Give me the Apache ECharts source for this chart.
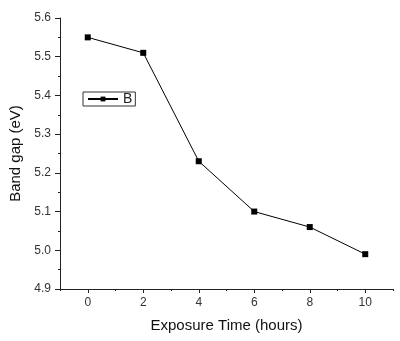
<!DOCTYPE html>
<html>
<head>
<meta charset="utf-8">
<script src="https://cdn.jsdelivr.net/npm/echarts@6/dist/echarts.min.js"></script>
<style>
  html, body { margin: 0; padding: 0; background: #fff; }
  #chart { width: 400px; height: 341px; }
</style>
</head>
<body>
<div id="chart"></div>
<script>
// Band gap against exposure time
const exposureHours = [0, 2, 4, 6, 8, 10];
const bandGap = [5.55, 5.51, 5.23, 5.10, 5.06, 4.99];
const xMajorTicks = [0, 2, 4, 6, 8, 10];
const xMinorTicks = [-1, 1, 3, 5, 7, 9, 11];
const seriesName = 'B';

const font = '"Liberation Sans", Arial, sans-serif';
const ink = '#000';

const chart = echarts.init(document.getElementById('chart'));
chart.setOption({
  animation: false,
  backgroundColor: '#fff',
  grid: { left: 59, top: 18, right: 7, bottom: 52, containLabel: false },
  legend: {
    left: 83, top: 92,
    orient: 'vertical',
    borderColor: '#333', borderWidth: 1,
    padding: [0, 3, 0, 4],
    itemWidth: 30, itemHeight: 6, itemGap: 4,
    textStyle: { fontFamily: font, fontSize: 14, color: '#222' },
    data: [seriesName]
  },
  xAxis: [{
    type: 'value', min: -1, max: 11, interval: 1,
    name: 'Exposure Time (hours)', nameLocation: 'middle', nameGap: 29,
    nameTextStyle: { fontFamily: font, fontSize: 15, color: '#111' },
    axisLine: { show: true, onZero: false, lineStyle: { color: '#222', width: 1 } },
    axisTick: { show: true, length: 4, customValues: xMajorTicks, lineStyle: { color: '#222' } },
    axisLabel: { customValues: xMajorTicks, fontFamily: font, fontSize: 12, color: '#333', margin: 8 },
    splitLine: { show: false }
  }, {
    type: 'value', min: -1, max: 11, interval: 1, position: 'bottom',
    axisLine: { show: false, onZero: false },
    axisTick: { show: true, length: 2, customValues: xMinorTicks, lineStyle: { color: '#222' } },
    axisLabel: { show: false },
    splitLine: { show: false }
  }],
  yAxis: {
    type: 'value', min: 4.9, max: 5.6, interval: 0.1,
    name: 'Band gap (eV)', nameLocation: 'middle', nameGap: 37, nameRotate: 90,
    nameTextStyle: { fontFamily: font, fontSize: 15, color: '#111' },
    axisLine: { show: true, onZero: false, lineStyle: { color: '#222', width: 1 } },
    axisTick: { show: true, length: 5, lineStyle: { color: '#222' } },
    minorTick: { show: true, splitNumber: 2, length: 2, lineStyle: { color: '#222' } },
    axisLabel: { fontFamily: font, fontSize: 12, color: '#333', margin: 9,
      formatter: v => v.toFixed(1) },
    splitLine: { show: false }
  },
  series: [{
    name: seriesName,
    type: 'line',
    xAxisIndex: 0,
    data: exposureHours.map((h, i) => [h, bandGap[i]]),
    symbol: 'rect', symbolSize: 6,
    lineStyle: { color: ink, width: 1 },
    itemStyle: { color: ink }
  }]
});
</script>
</body>
</html>
